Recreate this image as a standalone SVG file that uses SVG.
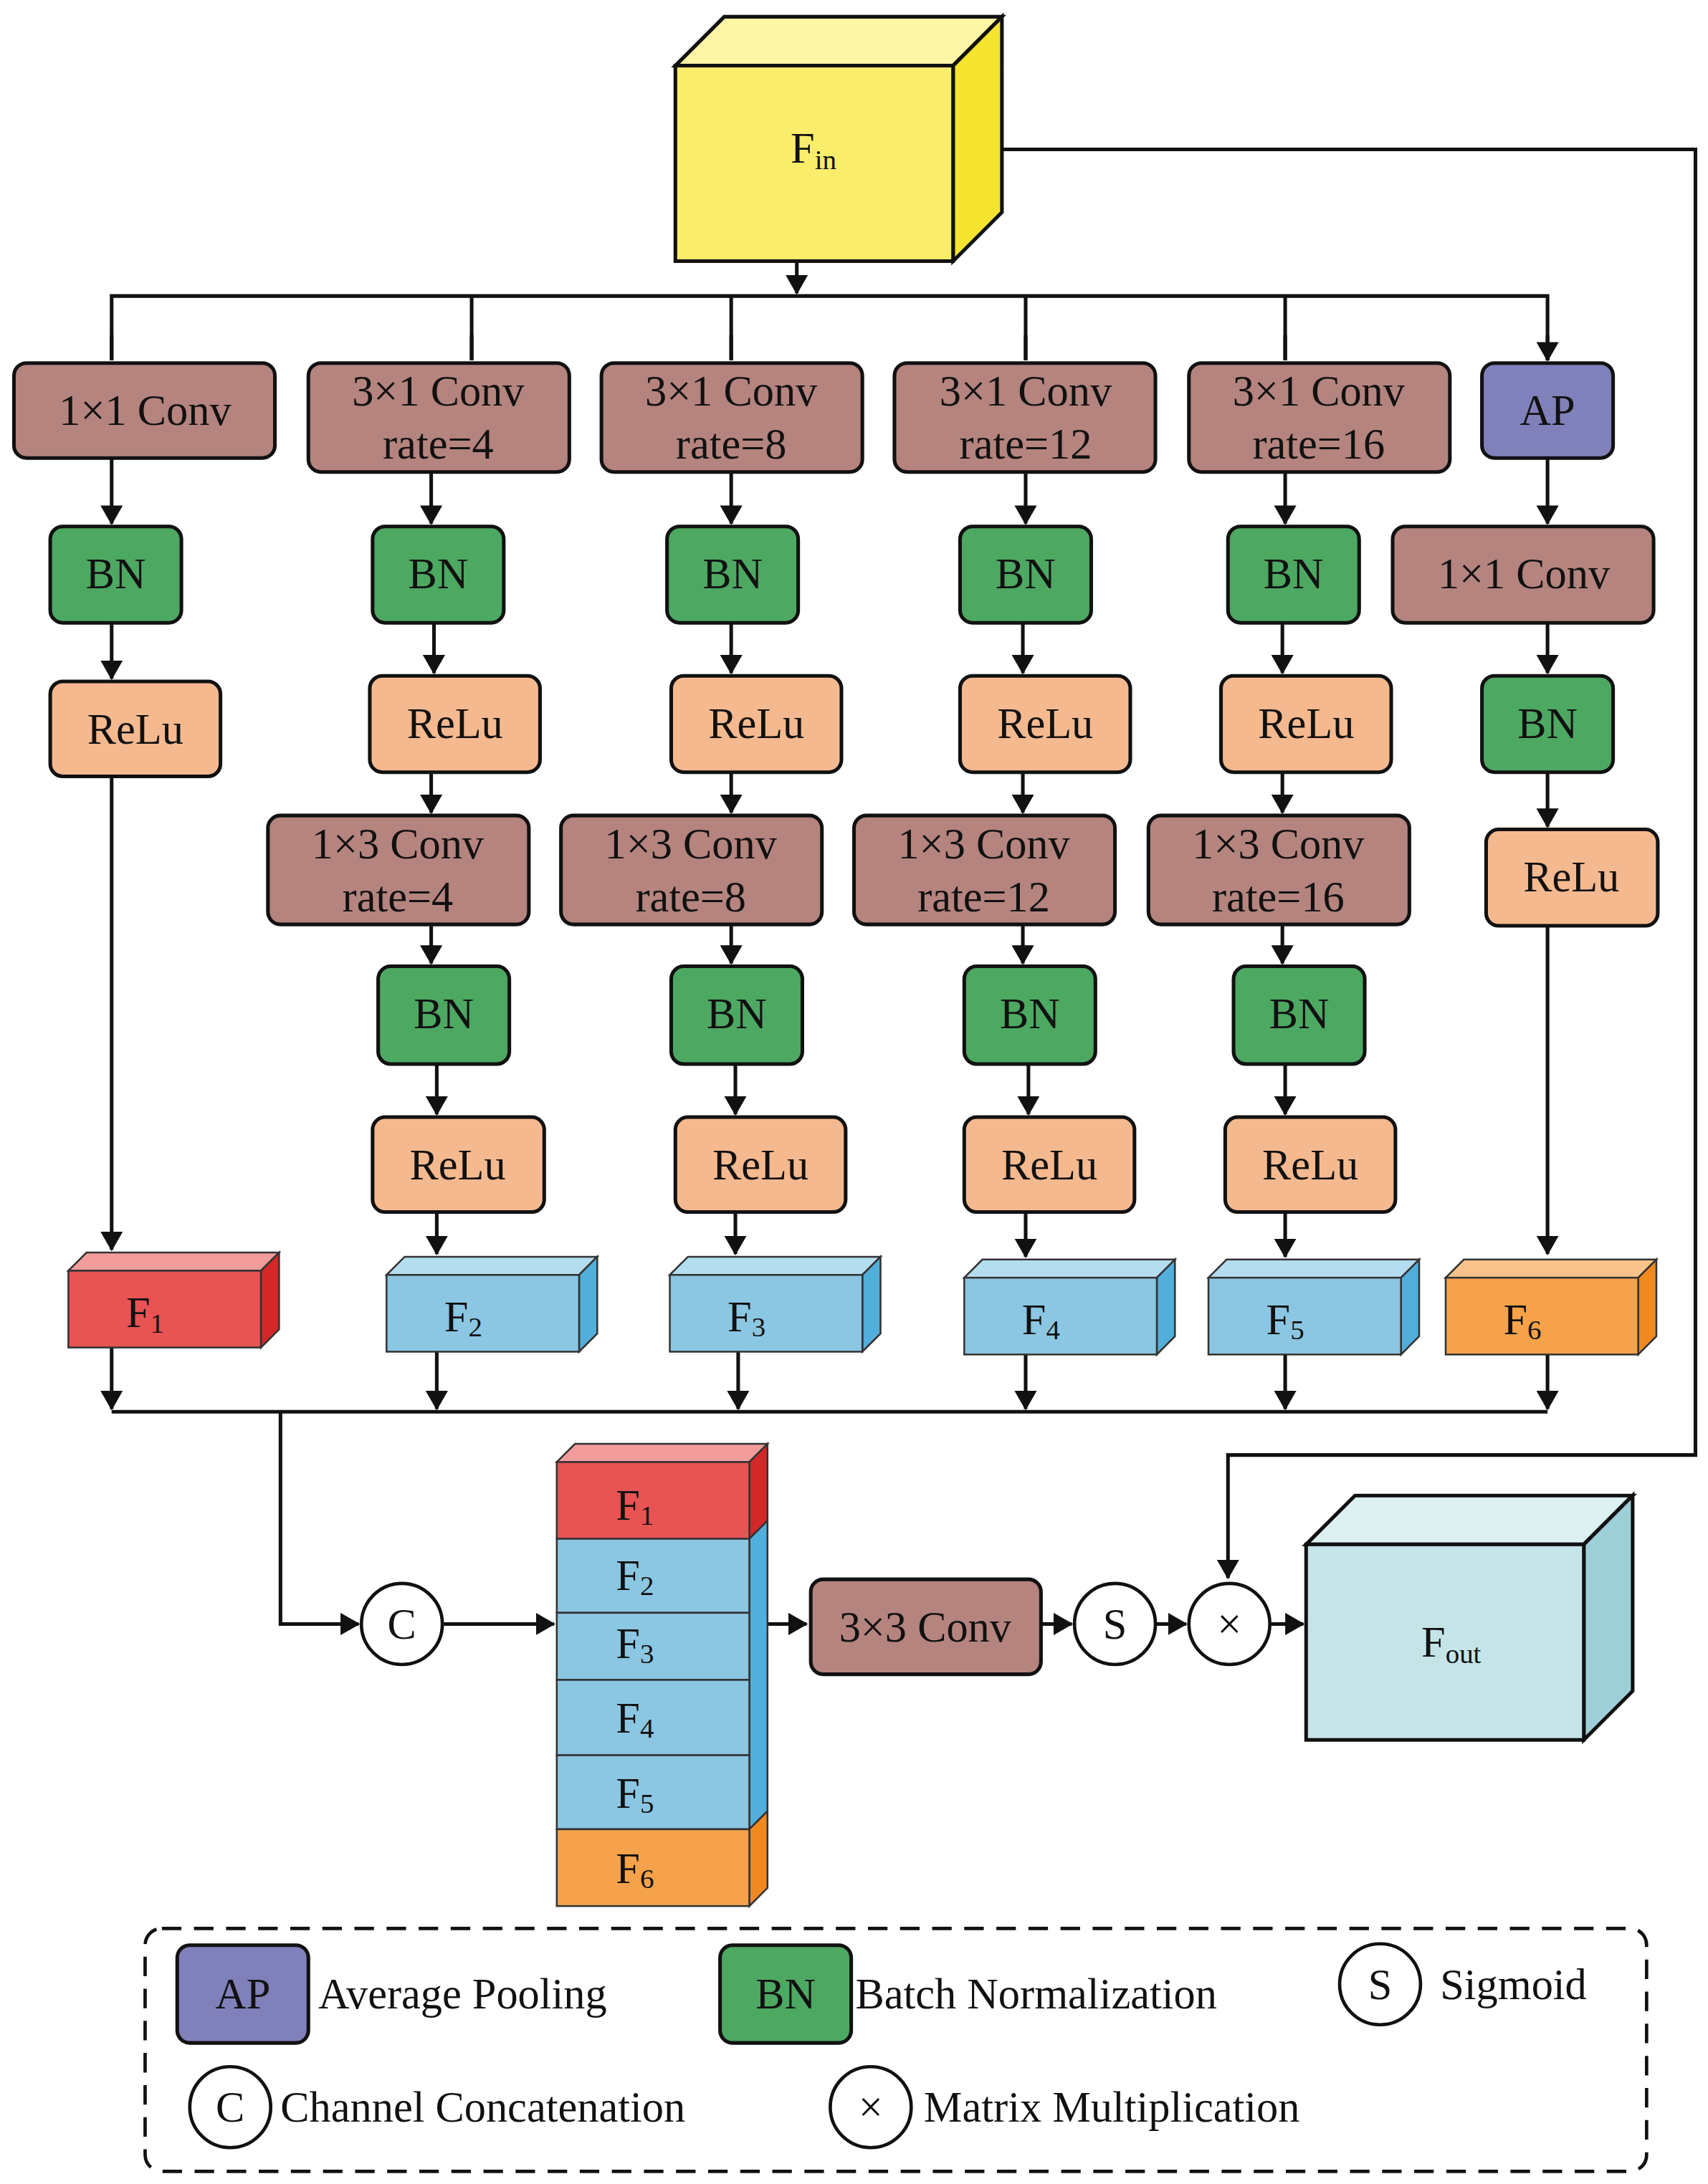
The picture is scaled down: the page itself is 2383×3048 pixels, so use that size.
<svg xmlns="http://www.w3.org/2000/svg" width="2383" height="3048" viewBox="0 0 2383 3048">
<style>
text{font-family:"Liberation Serif","Times New Roman",serif;font-size:31px;fill:#111;text-anchor:middle;dominant-baseline:central}
.lg{text-anchor:start}
.n{stroke:#111;stroke-width:2.6}
.cv{fill:#B5847E}.bn{fill:#4DA862}.re{fill:#F5B98F}.ap{fill:#8080BA}
.c{fill:#fff;stroke:#111;stroke-width:2.4}
.ln{fill:none;stroke:#111;stroke-width:2.6}
.bx{stroke:#333;stroke-width:1.3}
.sub{font-size:20px}
</style>
<defs>
<marker id="a" markerUnits="userSpaceOnUse" markerWidth="14" markerHeight="16" refX="13" refY="8" orient="auto"><path d="M0,0L14,8L0,16Z" fill="#111"/></marker>
</defs>
<rect width="2383" height="3048" fill="#fff"/>
<g transform="scale(1.9469,1.9488)">
<g id="connectors">
<path class="ln" d="M571,187V210" marker-end="url(#a)"/>
<path class="ln" d="M80,258V212H1109V258M338,212V258M524,212V258M735,212V258M921,212V258"/>
<path class="ln" d="M80,240V258M338,240V258M524,240V258M735,240V258M921,240V258M1109,240V258" marker-end="url(#a)"/>
<path class="ln" d="M718,107H1215V1042H880V1130" marker-end="url(#a)"/>
<path class="ln" d="M80,328V375" marker-end="url(#a)"/>
<path class="ln" d="M309,338V375" marker-end="url(#a)"/>
<path class="ln" d="M524,338V375" marker-end="url(#a)"/>
<path class="ln" d="M735,338V375" marker-end="url(#a)"/>
<path class="ln" d="M921,338V375" marker-end="url(#a)"/>
<path class="ln" d="M1109,328V375" marker-end="url(#a)"/>
<path class="ln" d="M80,446V486" marker-end="url(#a)"/>
<path class="ln" d="M311,446V482" marker-end="url(#a)"/>
<path class="ln" d="M524,446V482" marker-end="url(#a)"/>
<path class="ln" d="M733,446V482" marker-end="url(#a)"/>
<path class="ln" d="M919,446V482" marker-end="url(#a)"/>
<path class="ln" d="M1109,446V482" marker-end="url(#a)"/>
<path class="ln" d="M309,553V582" marker-end="url(#a)"/>
<path class="ln" d="M524,553V582" marker-end="url(#a)"/>
<path class="ln" d="M733,553V582" marker-end="url(#a)"/>
<path class="ln" d="M919,553V582" marker-end="url(#a)"/>
<path class="ln" d="M1109,553V592" marker-end="url(#a)"/>
<path class="ln" d="M309,662V690" marker-end="url(#a)"/>
<path class="ln" d="M524,662V690" marker-end="url(#a)"/>
<path class="ln" d="M733,662V690" marker-end="url(#a)"/>
<path class="ln" d="M919,662V690" marker-end="url(#a)"/>
<path class="ln" d="M313,762V798" marker-end="url(#a)"/>
<path class="ln" d="M527,762V798" marker-end="url(#a)"/>
<path class="ln" d="M737,762V798" marker-end="url(#a)"/>
<path class="ln" d="M921,762V798" marker-end="url(#a)"/>
<path class="ln" d="M80,556V895" marker-end="url(#a)"/>
<path class="ln" d="M313,868V898" marker-end="url(#a)"/>
<path class="ln" d="M527,868V898" marker-end="url(#a)"/>
<path class="ln" d="M735,868V900" marker-end="url(#a)"/>
<path class="ln" d="M921,868V900" marker-end="url(#a)"/>
<path class="ln" d="M1109,663V898" marker-end="url(#a)"/>
<path class="ln" d="M80,965V1009" marker-end="url(#a)"/>
<path class="ln" d="M313,968V1009" marker-end="url(#a)"/>
<path class="ln" d="M529,968V1009" marker-end="url(#a)"/>
<path class="ln" d="M735,970V1009" marker-end="url(#a)"/>
<path class="ln" d="M921,970V1009" marker-end="url(#a)"/>
<path class="ln" d="M1109,970V1009" marker-end="url(#a)"/>
<path class="ln" d="M80,1011H1109"/>
<path class="ln" d="M201,1011V1163H257" marker-end="url(#a)"/>
<path class="ln" d="M318,1163H397" marker-end="url(#a)"/>
<path class="ln" d="M550,1163H578" marker-end="url(#a)"/>
<path class="ln" d="M746,1163H768" marker-end="url(#a)"/>
<path class="ln" d="M829,1163H850" marker-end="url(#a)"/>
<path class="ln" d="M911,1163H934" marker-end="url(#a)"/>
</g>
<g id="Fin">
<path d="M484,47L519,12H718L683,47Z" fill="#FCF5A6" class="n"/>
<path d="M683,47L718,12V152L683,187Z" fill="#F5E52E" class="n"/>
<rect x="484" y="47" width="199" height="140" fill="#FAED6B" class="n"/>
<text x="583" y="106">F<tspan class="sub" dy="8">in</tspan></text>
</g>
<g id="r1c1"><rect x="10" y="260" width="187" height="68" rx="9" class="n cv"/><text x="104" y="294">1×1 Conv</text></g>
<g id="r1c2"><rect x="221" y="260" width="187" height="78" rx="9" class="n cv"/><text x="314" y="280">3×1 Conv</text><text x="314" y="318">rate=4</text></g>
<g id="r1c3"><rect x="431" y="260" width="187" height="78" rx="9" class="n cv"/><text x="524" y="280">3×1 Conv</text><text x="524" y="318">rate=8</text></g>
<g id="r1c4"><rect x="641" y="260" width="187" height="78" rx="9" class="n cv"/><text x="735" y="280">3×1 Conv</text><text x="735" y="318">rate=12</text></g>
<g id="r1c5"><rect x="852" y="260" width="187" height="78" rx="9" class="n cv"/><text x="945" y="280">3×1 Conv</text><text x="945" y="318">rate=16</text></g>
<g id="ap"><rect x="1062" y="260" width="94" height="68" rx="9" class="n ap"/><text x="1109" y="294">AP</text></g>
<g id="bn1"><rect x="36" y="377" width="94" height="69" rx="9" class="n bn"/><text x="83" y="411">BN</text></g>
<g id="bn2"><rect x="267" y="377" width="94" height="69" rx="9" class="n bn"/><text x="314" y="411">BN</text></g>
<g id="bn3"><rect x="478" y="377" width="94" height="69" rx="9" class="n bn"/><text x="525" y="411">BN</text></g>
<g id="bn4"><rect x="688" y="377" width="94" height="69" rx="9" class="n bn"/><text x="735" y="411">BN</text></g>
<g id="bn5"><rect x="880" y="377" width="94" height="69" rx="9" class="n bn"/><text x="927" y="411">BN</text></g>
<g id="cv6"><rect x="998" y="377" width="187" height="69" rx="9" class="n cv"/><text x="1092" y="411">1×1 Conv</text></g>
<g id="re1"><rect x="36" y="488" width="122" height="68" rx="9" class="n re"/><text x="97" y="522">ReLu</text></g>
<g id="re2"><rect x="265" y="484" width="122" height="69" rx="9" class="n re"/><text x="326" y="518">ReLu</text></g>
<g id="re3"><rect x="481" y="484" width="122" height="69" rx="9" class="n re"/><text x="542" y="518">ReLu</text></g>
<g id="re4"><rect x="688" y="484" width="122" height="69" rx="9" class="n re"/><text x="749" y="518">ReLu</text></g>
<g id="re5"><rect x="875" y="484" width="122" height="69" rx="9" class="n re"/><text x="936" y="518">ReLu</text></g>
<g id="bn6"><rect x="1062" y="484" width="94" height="69" rx="9" class="n bn"/><text x="1109" y="518">BN</text></g>
<g id="c13a"><rect x="192" y="584" width="187" height="78" rx="9" class="n cv"/><text x="285" y="604">1×3 Conv</text><text x="285" y="642">rate=4</text></g>
<g id="c13b"><rect x="402" y="584" width="187" height="78" rx="9" class="n cv"/><text x="495" y="604">1×3 Conv</text><text x="495" y="642">rate=8</text></g>
<g id="c13c"><rect x="612" y="584" width="187" height="78" rx="9" class="n cv"/><text x="705" y="604">1×3 Conv</text><text x="705" y="642">rate=12</text></g>
<g id="c13d"><rect x="823" y="584" width="187" height="78" rx="9" class="n cv"/><text x="916" y="604">1×3 Conv</text><text x="916" y="642">rate=16</text></g>
<g id="re6"><rect x="1065" y="594" width="123" height="69" rx="9" class="n re"/><text x="1126" y="628">ReLu</text></g>
<g id="bn2b"><rect x="271" y="692" width="94" height="70" rx="9" class="n bn"/><text x="318" y="726">BN</text></g>
<g id="bn3b"><rect x="481" y="692" width="94" height="70" rx="9" class="n bn"/><text x="528" y="726">BN</text></g>
<g id="bn4b"><rect x="691" y="692" width="94" height="70" rx="9" class="n bn"/><text x="738" y="726">BN</text></g>
<g id="bn5b"><rect x="884" y="692" width="94" height="70" rx="9" class="n bn"/><text x="931" y="726">BN</text></g>
<g id="re2b"><rect x="267" y="800" width="123" height="68" rx="9" class="n re"/><text x="328" y="834">ReLu</text></g>
<g id="re3b"><rect x="484" y="800" width="122" height="68" rx="9" class="n re"/><text x="545" y="834">ReLu</text></g>
<g id="re4b"><rect x="691" y="800" width="122" height="68" rx="9" class="n re"/><text x="752" y="834">ReLu</text></g>
<g id="re5b"><rect x="878" y="800" width="122" height="68" rx="9" class="n re"/><text x="939" y="834">ReLu</text></g>
<g id="F1"><path d="M49,910L62,897H200L187,910Z" fill="#F29C9C" class="bx"/><path d="M187,910L200,897V952L187,965Z" fill="#D42828" class="bx"/><rect x="49" y="910" width="138" height="55" fill="#E85353" class="bx"/><text x="104" y="940">F<tspan class="sub" dy="7">1</tspan></text></g>
<g id="F2"><path d="M277,913L290,900H428L415,913Z" fill="#B5DDF0" class="bx"/><path d="M415,913L428,900V955L415,968Z" fill="#52AEDA" class="bx"/><rect x="277" y="913" width="138" height="55" fill="#8BC6E2" class="bx"/><text x="332" y="943">F<tspan class="sub" dy="7">2</tspan></text></g>
<g id="F3"><path d="M480,913L493,900H631L618,913Z" fill="#B5DDF0" class="bx"/><path d="M618,913L631,900V955L618,968Z" fill="#52AEDA" class="bx"/><rect x="480" y="913" width="138" height="55" fill="#8BC6E2" class="bx"/><text x="535" y="943">F<tspan class="sub" dy="7">3</tspan></text></g>
<g id="F4"><path d="M691,915L704,902H842L829,915Z" fill="#B5DDF0" class="bx"/><path d="M829,915L842,902V957L829,970Z" fill="#52AEDA" class="bx"/><rect x="691" y="915" width="138" height="55" fill="#8BC6E2" class="bx"/><text x="746" y="945">F<tspan class="sub" dy="7">4</tspan></text></g>
<g id="F5"><path d="M866,915L879,902H1017L1004,915Z" fill="#B5DDF0" class="bx"/><path d="M1004,915L1017,902V957L1004,970Z" fill="#52AEDA" class="bx"/><rect x="866" y="915" width="138" height="55" fill="#8BC6E2" class="bx"/><text x="921" y="945">F<tspan class="sub" dy="7">5</tspan></text></g>
<g id="F6"><path d="M1036,915L1049,902H1187L1174,915Z" fill="#F8C28A" class="bx"/><path d="M1174,915L1187,902V957L1174,970Z" fill="#F08A20" class="bx"/><rect x="1036" y="915" width="138" height="55" fill="#F5A24B" class="bx"/><text x="1091" y="945">F<tspan class="sub" dy="7">6</tspan></text></g>
<g id="C"><circle cx="288" cy="1163" r="29" class="c"/><text x="288" y="1163">C</text></g>
<g id="stack">
<path d="M399,1047L412,1034H550L537,1047Z" fill="#F29C9C" class="bx"/>
<path d="M537,1047L550,1034V1089L537,1102Z" fill="#D42828" class="bx"/>
<path d="M537,1102L550,1089V1297L537,1310Z" fill="#52AEDA" class="bx"/>
<path d="M537,1310L550,1297V1352L537,1365Z" fill="#F08A20" class="bx"/>
<rect x="399" y="1047" width="138" height="55" fill="#E85353" class="bx"/>
<rect x="399" y="1102" width="138" height="53" fill="#8BC6E2" class="bx"/>
<rect x="399" y="1155" width="138" height="48" fill="#8BC6E2" class="bx"/>
<rect x="399" y="1203" width="138" height="54" fill="#8BC6E2" class="bx"/>
<rect x="399" y="1257" width="138" height="53" fill="#8BC6E2" class="bx"/>
<rect x="399" y="1310" width="138" height="55" fill="#F5A24B" class="bx"/>
<text x="455" y="1078">F<tspan class="sub" dy="7">1</tspan></text>
<text x="455" y="1128">F<tspan class="sub" dy="7">2</tspan></text>
<text x="455" y="1177">F<tspan class="sub" dy="7">3</tspan></text>
<text x="455" y="1230">F<tspan class="sub" dy="7">4</tspan></text>
<text x="455" y="1284">F<tspan class="sub" dy="7">5</tspan></text>
<text x="455" y="1338">F<tspan class="sub" dy="7">6</tspan></text>
</g>
<g id="conv33"><rect x="581" y="1131" width="165" height="68" rx="9" class="n cv"/><text x="663" y="1165">3×3 Conv</text></g>
<g id="S"><circle cx="799" cy="1163" r="29" class="c"/><text x="799" y="1163">S</text></g>
<g id="X"><circle cx="881" cy="1163" r="29" class="c"/><text x="881" y="1163">×</text></g>
<g id="Fout">
<path d="M936,1106L971,1071H1170L1135,1106Z" fill="#DDF0F2" class="n"/>
<path d="M1135,1106L1170,1071V1211L1135,1246Z" fill="#9FCFD6" class="n"/>
<rect x="936" y="1106" width="199" height="140" fill="#C4E4E8" class="n"/>
<text x="1040" y="1176">F<tspan class="sub" dy="8">out</tspan></text>
</g>
<g id="legend">
<rect x="104" y="1381" width="1076" height="174" rx="12" fill="none" stroke="#111" stroke-width="2.4" stroke-dasharray="14,9"/>
<rect x="127" y="1393" width="94" height="70" rx="9" class="n ap"/><text x="174" y="1428">AP</text>
<text class="lg" x="228" y="1428">Average Pooling</text>
<rect x="516" y="1393" width="94" height="70" rx="9" class="n bn"/><text x="563" y="1428">BN</text>
<text class="lg" x="613" y="1428">Batch Normalization</text>
<circle cx="989" cy="1421" r="29" class="c"/><text x="989" y="1421">S</text>
<text class="lg" x="1032" y="1421">Sigmoid</text>
<circle cx="165" cy="1509" r="29" class="c"/><text x="165" y="1509">C</text>
<text class="lg" x="201" y="1509">Channel Concatenation</text>
<circle cx="624" cy="1509" r="29" class="c"/><text x="624" y="1509">×</text>
<text class="lg" x="662" y="1509">Matrix Multiplication</text>
</g>
</g>
</svg>
